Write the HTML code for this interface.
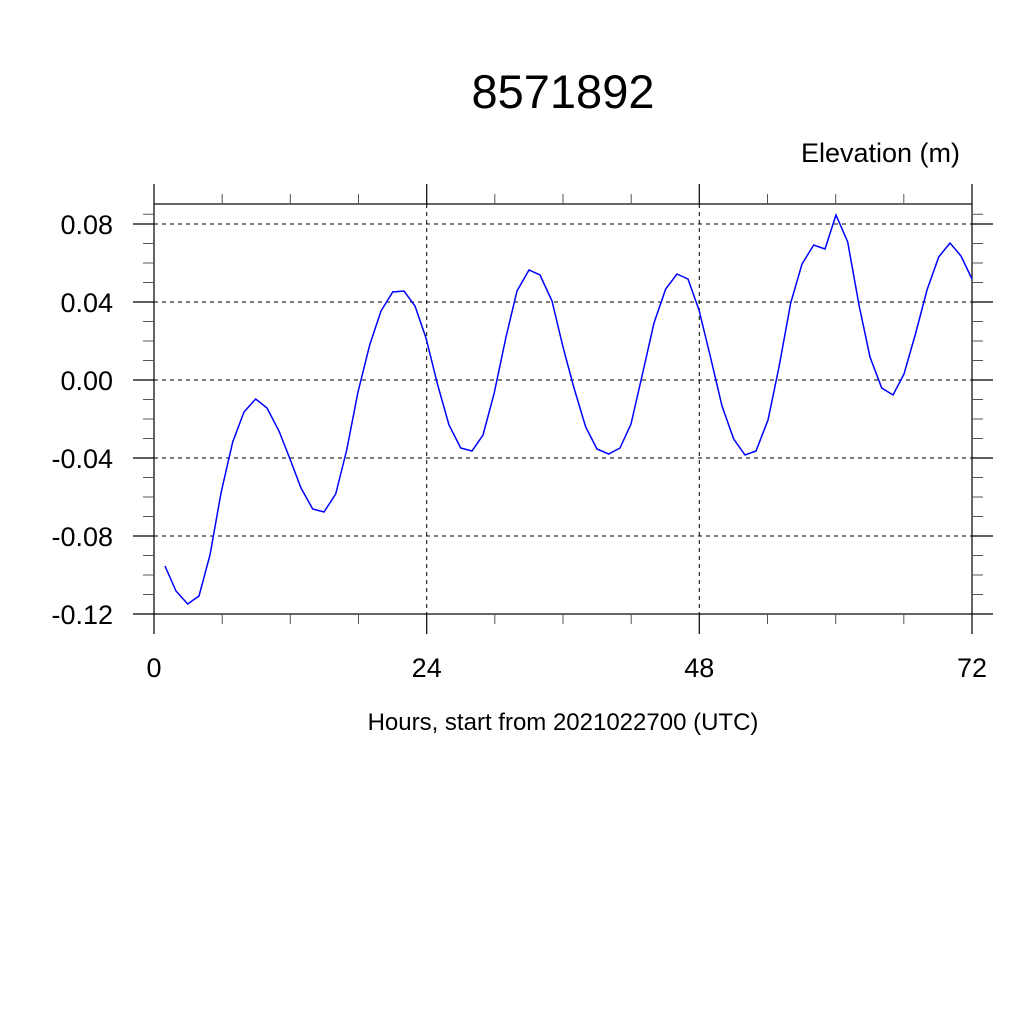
<!DOCTYPE html>
<html><head><meta charset="utf-8"><style>
html,body{margin:0;padding:0;background:#fff;}
svg{display:block;}
text{font-family:"Liberation Sans",sans-serif;fill:#000;}
</style></head><body>
<svg width="1024" height="1024" viewBox="0 0 1024 1024">
<rect width="1024" height="1024" fill="#fff"/>
<text x="563" y="108" font-size="47" text-anchor="middle">8571892</text>
<text x="960" y="162" font-size="27" text-anchor="end">Elevation (m)</text>
<g stroke="#000" stroke-width="1" stroke-dasharray="4,4" fill="none">
<line x1="154" y1="224" x2="972" y2="224"/>
<line x1="154" y1="302" x2="972" y2="302"/>
<line x1="154" y1="380" x2="972" y2="380"/>
<line x1="154" y1="458" x2="972" y2="458"/>
<line x1="154" y1="536" x2="972" y2="536"/>
<line x1="426.7" y1="204" x2="426.7" y2="614"/>
<line x1="699.3" y1="204" x2="699.3" y2="614"/>
</g>
<g stroke="#000" stroke-width="1.2" fill="none">
<rect x="154" y="204" width="818" height="410"/>
<path d="M154 184V204M426.7 184V204M699.3 184V204M972 184V204
M154 614V634M426.7 614V634M699.3 614V634M972 614V634
M133 224H154M133 302H154M133 380H154M133 458H154M133 536H154M133 614H154
M972 224H993M972 302H993M972 380H993M972 458H993M972 536H993M972 614H993"/>
</g>
<g stroke="#555" stroke-width="1" fill="none">
<path d="M222.2 194V204M290.3 194V204M358.5 194V204M494.8 194V204M563 194V204M631.2 194V204M767.5 194V204M835.7 194V204M903.8 194V204
M222.2 614V624M290.3 614V624M358.5 614V624M494.8 614V624M563 614V624M631.2 614V624M767.5 614V624M835.7 614V624M903.8 614V624
M143 243.5H154M143 263H154M143 282.5H154M143 321.5H154M143 341H154M143 360.5H154M143 399.5H154M143 419H154M143 438.5H154M143 477.5H154M143 497H154M143 516.5H154M143 555.5H154M143 575H154M143 594.5H154M143 214.25H154
M972 243.5H983M972 263H983M972 282.5H983M972 321.5H983M972 341H983M972 360.5H983M972 399.5H983M972 419H983M972 438.5H983M972 477.5H983M972 497H983M972 516.5H983M972 555.5H983M972 575H983M972 594.5H983M972 214.25H983"/>
</g>
<g font-size="27" text-anchor="end">
<text x="113" y="234">0.08</text>
<text x="113" y="312">0.04</text>
<text x="113" y="390">0.00</text>
<text x="113" y="468">-0.04</text>
<text x="113" y="546">-0.08</text>
<text x="113" y="624">-0.12</text>
</g>
<g font-size="27" text-anchor="middle">
<text x="154" y="677">0</text>
<text x="426.7" y="677">24</text>
<text x="699.3" y="677">48</text>
<text x="972" y="677">72</text>
</g>
<text x="563" y="730" font-size="24" text-anchor="middle">Hours, start from 2021022700 (UTC)</text>
<polyline fill="none" stroke="#0000ff" stroke-width="1.5" points="165,566 176,591 187.7,604 199,596 210,555 221,493 232.7,442 244,412 255.7,399 267,408 279,431 290,459 301,488 312.7,509 324,512 335.7,494 346.7,450 358,392 369.7,345 381,311 392.7,292 404,291 415,306 426,338 437.7,385 449,425 460.7,448 472,451 483,435 494,394 506,337 517,291 529,270 540,275 552,301 563,347 574,388 585.7,427 597,449 608.7,454 620,448 631,424 642.7,373 654,323 665.7,289 677,274 688,279 699,310 710.7,358 722,406 733.7,439 745,455 756,451 768,420 779,367 790.7,303 802,264 813.7,245 825,249 836,215 847.7,242 859,305 870,357 881.7,388 893,395 904,374 916,332 927,290 938.7,257 950,243 961,256 972,279"/>
</svg>
</body></html>
